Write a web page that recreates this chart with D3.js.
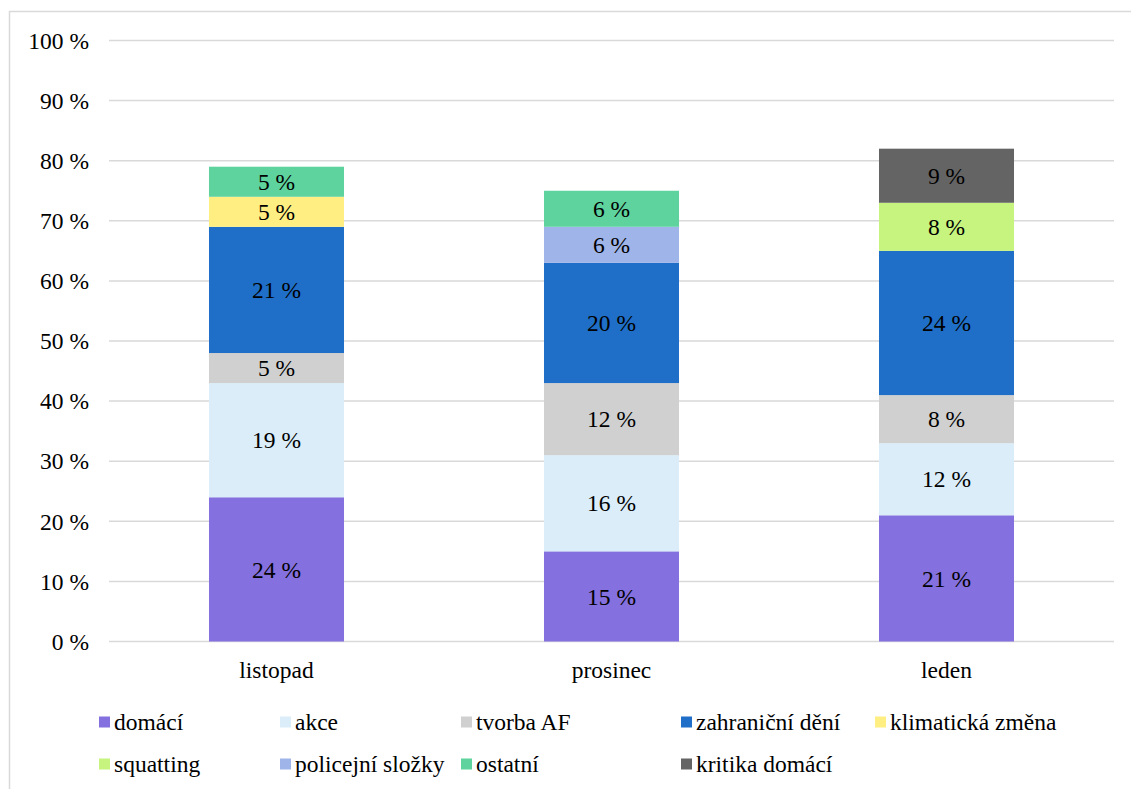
<!DOCTYPE html>
<html lang="cs">
<head>
<meta charset="UTF-8">
<title>Témata podle měsíců</title>
<script src="https://d3js.org/d3.v7.min.js"></script>
<style>
  body { margin: 0; background: #fff; }
  svg { display: block; }
  svg text { font-family: "Liberation Serif", "Times New Roman", serif; }
</style>
</head>
<body>
<div id="chart"></div>
<script>
// kategorie (měsíce)
const months = ["listopad", "prosinec", "leden"];

// série v pořadí skládání zdola nahoru
const seriesNames = ["domácí", "akce", "tvorba AF", "zahraniční dění", "klimatická změna",
                     "squatting", "policejní složky", "ostatní", "kritika domácí"];
const seriesColors = ["#8470de", "#daedf8", "#d0d0d0", "#1f6fc8", "#ffee82",
                      "#c6f47e", "#9fb4e8", "#5ed39e", "#646464"];

// hodnoty v % pro listopad, prosinec, leden (0 = téma v měsíci chybí)
const domaci        = [24, 15, 21];
const akce          = [19, 16, 12];
const tvorbaAF      = [5, 12, 8];
const zahranicni    = [21, 20, 24];
const klimaticka    = [5, 0, 0];
const squatting     = [0, 0, 8];
const policejni     = [0, 6, 0];
const ostatni       = [5, 6, 0];
const kritika       = [0, 0, 9];

const yTicks = [0, 10, 20, 30, 40, 50, 60, 70, 80, 90, 100];

const seriesValues = [domaci, akce, tvorbaAF, zahranicni, klimaticka, squatting, policejni, ostatni, kritika];

const width = 1131, height = 789;
const margin = { top: 40.5, left: 109, right: 17, bottom: 147.5 };
const fs = 23.5;

const svg = d3.select("#chart").append("svg")
    .attr("width", width)
    .attr("height", height);

// rámeček grafu
svg.append("rect")
    .attr("x", 9.5).attr("y", 11.5)
    .attr("width", width + 10).attr("height", height + 10)
    .attr("fill", "none")
    .attr("stroke", "#d9d9d9")
    .attr("stroke-width", 1.5);

const x = d3.scaleBand()
    .domain(months)
    .range([margin.left, width - margin.right])
    .paddingInner(0.597)
    .paddingOuter(0.2985);

const y = d3.scaleLinear()
    .domain([0, 100])
    .range([height - margin.bottom, margin.top]);

// mřížka
svg.append("g")
    .selectAll("line")
    .data(yTicks)
    .join("line")
    .attr("x1", margin.left)
    .attr("x2", width - margin.right)
    .attr("y1", d => y(d))
    .attr("y2", d => y(d))
    .attr("stroke", "#d9d9d9")
    .attr("stroke-width", 1.5);

// popisky osy y
svg.append("g")
    .selectAll("text")
    .data(yTicks)
    .join("text")
    .attr("x", 89)
    .attr("y", d => y(d))
    .attr("dy", "0.35em")
    .attr("text-anchor", "end")
    .attr("font-size", fs)
    .attr("fill", "#000")
    .text(d => d + " %");

// skládaná data
const table = months.map((m, i) => {
    const row = { month: m };
    seriesNames.forEach((s, j) => row[s] = seriesValues[j][i]);
    return row;
});
const stacked = d3.stack().keys(seriesNames)(table);
const color = d3.scaleOrdinal().domain(seriesNames).range(seriesColors);

const layers = svg.append("g")
    .selectAll("g")
    .data(stacked)
    .join("g")
    .attr("fill", d => color(d.key));

layers.selectAll("rect")
    .data(d => d.filter(p => p[1] - p[0] > 0))
    .join("rect")
    .attr("x", d => x(d.data.month))
    .attr("width", x.bandwidth())
    .attr("y", d => y(d[1]))
    .attr("height", d => y(d[0]) - y(d[1]));

layers.selectAll("text")
    .data(d => d.filter(p => p[1] - p[0] > 0))
    .join("text")
    .attr("x", d => x(d.data.month) + x.bandwidth() / 2)
    .attr("y", d => (y(d[0]) + y(d[1])) / 2)
    .attr("dy", "0.35em")
    .attr("text-anchor", "middle")
    .attr("font-size", fs)
    .attr("fill", "#000")
    .text(d => (d[1] - d[0]) + " %");

// popisky osy x
svg.append("g")
    .selectAll("text")
    .data(months)
    .join("text")
    .attr("x", d => x(d) + x.bandwidth() / 2)
    .attr("y", height - margin.bottom + 28)
    .attr("dy", "0.35em")
    .attr("text-anchor", "middle")
    .attr("font-size", fs)
    .attr("fill", "#000")
    .text(d => d);

// legenda - 5 sloupců, 2 řádky
const legendCols = [99, 280, 461, 681, 875];
const legendRows = [722, 764];

const legend = svg.append("g")
    .selectAll("g")
    .data(seriesNames)
    .join("g")
    .attr("transform", (d, i) => `translate(${legendCols[i % 5]},${legendRows[Math.floor(i / 5)]})`);

legend.append("rect")
    .attr("x", 0)
    .attr("y", -5.5)
    .attr("width", 11)
    .attr("height", 11)
    .attr("fill", d => color(d));

legend.append("text")
    .attr("x", 15)
    .attr("y", 0)
    .attr("dy", "0.35em")
    .attr("font-size", fs)
    .attr("fill", "#000")
    .text(d => d);
</script>
</body>
</html>
